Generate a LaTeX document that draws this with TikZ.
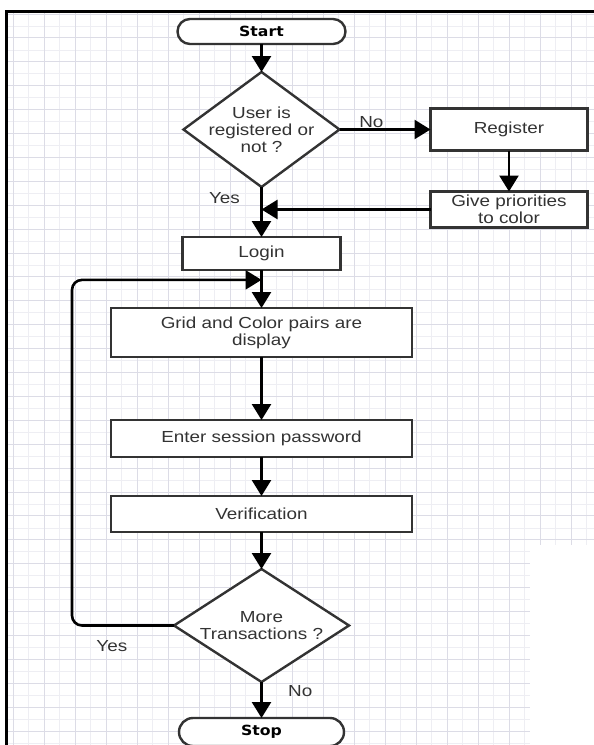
\documentclass[tikz,border=0pt]{standalone}
\usepackage{fontspec}
\setmainfont{Liberation Sans}[FakeStretch=1.18]
\newfontfamily\termfont{DejaVu Sans}[FakeStretch=1.12]
\usetikzlibrary{shapes,arrows.meta,positioning,calc}

\definecolor{gridmajor}{HTML}{DCDCE6}
\definecolor{gridminor}{HTML}{EEEEF3}
\definecolor{boxline}{HTML}{333333}
\definecolor{textgray}{HTML}{333333}

\tikzset{
  every node/.style={font=\fontsize{16}{17}\selectfont, text=textgray},
  terminal/.style={draw=boxline, fill=white, line width=2.4pt, rounded rectangle,
    minimum height=25pt, inner sep=0pt, outer sep=0pt,
    font=\termfont\bfseries\fontsize{14}{16}\selectfont, text=black},
  process/.style={draw=boxline, fill=white, line width=2.4pt, rectangle,
    align=center, inner sep=0pt, outer sep=0pt},
  decision/.style={draw=boxline, fill=white, line width=2.4pt, diamond,
    inner sep=0pt, outer sep=0pt},
  arrow/.style={line width=2.6pt, -{Triangle[length=16pt,width=19pt]}},
}

\begin{document}
\begin{tikzpicture}[x=1pt, y=-1pt]
    \useasboundingbox (0,0) rectangle (594,745);
    \fill[white] (0,0) rectangle (594,745);

    % grid paper
    \foreach \gx in {28.5,59.5,...,594} \draw[gridminor, line width=0.8pt] (\gx,11) -- (\gx,745);
    \foreach \gy in {26,49.9,...,745} \draw[gridminor, line width=0.8pt] (6,\gy) -- (594,\gy);
    \foreach \gx in {13,44,...,594} \draw[gridmajor, line width=1pt] (\gx,11) -- (\gx,745);
    \foreach \gy in {14,37.9,...,745} \draw[gridmajor, line width=1pt] (6,\gy) -- (594,\gy);
    \fill[white] (530,545) rectangle (594,745);
    \draw[line width=3pt] (594,11) -- (6,11) -- (6,745);

    \node[terminal, minimum width=168pt] (start) at (261.5,31.5) {Start};
    \node[decision, minimum width=156pt, minimum height=115pt, below=28pt of start,
          label={[align=center]center:User is\\registered or\\not ?}] (regcheck) {};
    \node[process, minimum width=157pt, minimum height=42pt, right=91pt of regcheck] (register) {Register};
    \node[process, minimum width=157pt, minimum height=36pt, below=41pt of register] (priority) {Give priorities\\to color};
    \node[process, minimum width=158pt, minimum height=33pt, below=50pt of regcheck] (login) {Login};
    \node[process, minimum width=301pt, minimum height=49pt, below=38pt of login] (gridpairs) {Grid and Color pairs are\\display};
    \node[process, minimum width=301pt, minimum height=37pt, below=63pt of gridpairs] (session) {Enter session password};
    \node[process, minimum width=301pt, minimum height=36pt, below=39pt of session] (verify) {Verification};
    \node[decision, minimum width=175pt, minimum height=113pt, below=37pt of verify,
          label={[align=center]center:More\\Transactions ?}] (more) {};
    \node[terminal, minimum width=165pt, minimum height=28pt, below=36pt of more] (stop) {Stop};

    \coordinate (loopin) at ($(login.south)!0.26!(gridpairs.north)$);

    \draw[arrow] (start.south) -- (regcheck.north);
    \draw[arrow] (regcheck.east) -- node[pos=0.35, above=-3pt] {No} (register.west);
    \draw[arrow] (register) -- (priority);
    \draw[arrow] (priority.west) -- (priority.west -| regcheck.south);
    \draw[arrow] (regcheck.south) -- node[pos=0.22, left=17pt] {Yes} (login.north);
    \draw[arrow] (login) -- (gridpairs);
    \draw[arrow] (gridpairs) -- (session);
    \draw[arrow] (session) -- (verify);
    \draw[arrow] (verify) -- (more);
    \draw[arrow] (more.south) -- node[pos=0.25, right=22pt] {No} (stop.north);
    \draw[arrow, rounded corners=10pt] (more.west) -- node[pos=0.61, below=10pt] {Yes} ++(-102,0) |- (loopin);
\end{tikzpicture}
\end{document}
